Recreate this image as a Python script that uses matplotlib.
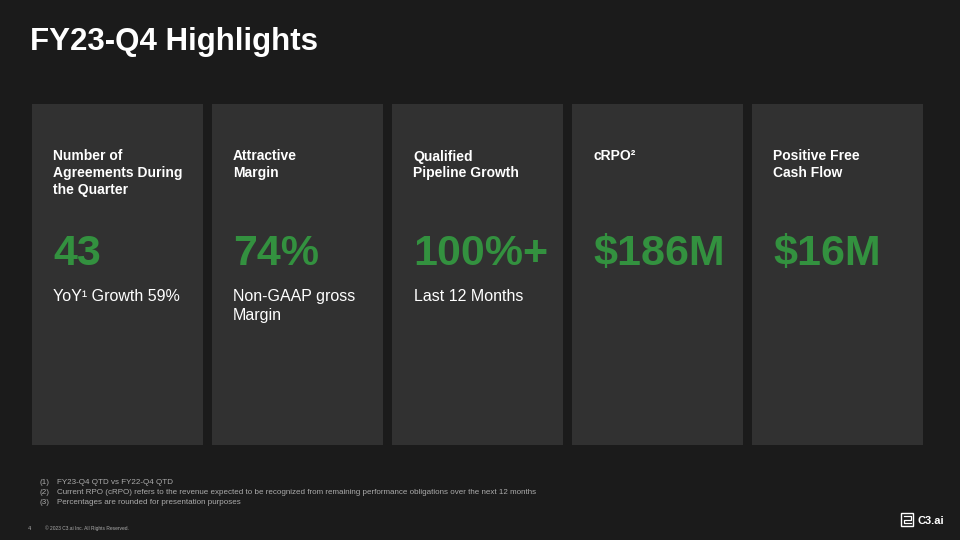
import matplotlib
matplotlib.use("Agg")
import matplotlib.pyplot as plt
from matplotlib.patches import Rectangle

plt.rcParams['font.family'] = ['Liberation Sans', 'DejaVu Sans']

title = "FY23-Q4 Highlights"
headers = ["Number of\nAgreements During\nthe Quarter",
           "Attractive\nMargin",
           "Qualified\nPipeline Growth",
           "cRPO\u00b2",
           "Positive Free\nCash Flow"]
values = ["43", "74%", "100%+", "$186M", "$16M"]
subtitles = ["YoY\u00b9 Growth 59%", "Non-GAAP gross\nMargin", "Last 12 Months", "", ""]
footnote_nums = ["(1)", "(2)", "(3)"]
footnotes = ["FY23-Q4 QTD vs FY22-Q4 QTD",
             "Current RPO (cRPO) refers to the revenue expected to be recognized from remaining performance obligations over the next 12 months",
             "Percentages are rounded for presentation purposes"]
page_num = "4"
copyright_text = "\u00a9 2023 C3.ai Inc. All Rights Reserved."
logo_text = "C3.ai"

BG = "#1b1b1b"
CARD = "#313131"
GREEN = "#33913f"
GREY = "#ababab"

fig = plt.figure(figsize=(9.6, 5.4), dpi=100, facecolor=BG)
ax = fig.add_axes([0, 0, 1, 1])
ax.set_xlim(0, 960)
ax.set_ylim(540, 0)
ax.axis("off")
ax.set_facecolor(BG)

ax.text(30, 42, title, fontsize=22.5, fontweight="bold", color="white", va="center", ha="left")

card_x0 = 32
card_w = 171
card_gap = 9
card_top = 104
card_h = 341
for i, (h, v, s) in enumerate(zip(headers, values, subtitles)):
    x = card_x0 + i * (card_w + card_gap)
    ax.add_patch(Rectangle((x, card_top), card_w, card_h, facecolor=CARD, edgecolor="none"))
    tx = x + 21
    ax.text(tx, 149.5, h, fontsize=10, fontweight="bold", color="white", va="top", ha="left",
            linespacing=1.25)
    ax.text(tx, 265, v, fontsize=31, fontweight="bold", color=GREEN,
            va="baseline", ha="left")
    if s:
        ax.text(tx + (1 if i == 2 else 0), 289, s, fontsize=11.5, color="white", va="top",
                ha="left", linespacing=1.3)

for j, (n, f) in enumerate(zip(footnote_nums, footnotes)):
    y = 482 + j * 10
    ax.text(39, y, n, fontsize=5.8, color=GREY, va="center", ha="left")
    ax.text(57, y, f, fontsize=5.8, color=GREY, va="center", ha="left")

ax.text(28, 528, page_num, fontsize=4, color=GREY, va="center", ha="left")
ax.text(45, 528, copyright_text, fontsize=3.5, color=GREY, va="center", ha="left")

# logo icon
ax.add_patch(Rectangle((901, 513), 12, 13, facecolor="none", edgecolor="white", linewidth=1.0))
ax.plot([903.5, 910.5, 910.5, 903.5, 903.5, 910.5], [516, 516, 519.5, 519.5, 523, 523],
        color="white", linewidth=0.9)
ax.text(917, 520.5, logo_text, fontsize=8, fontweight="bold", color="white", va="center", ha="left")

fig.savefig("out.png", dpi=100, facecolor=BG)
